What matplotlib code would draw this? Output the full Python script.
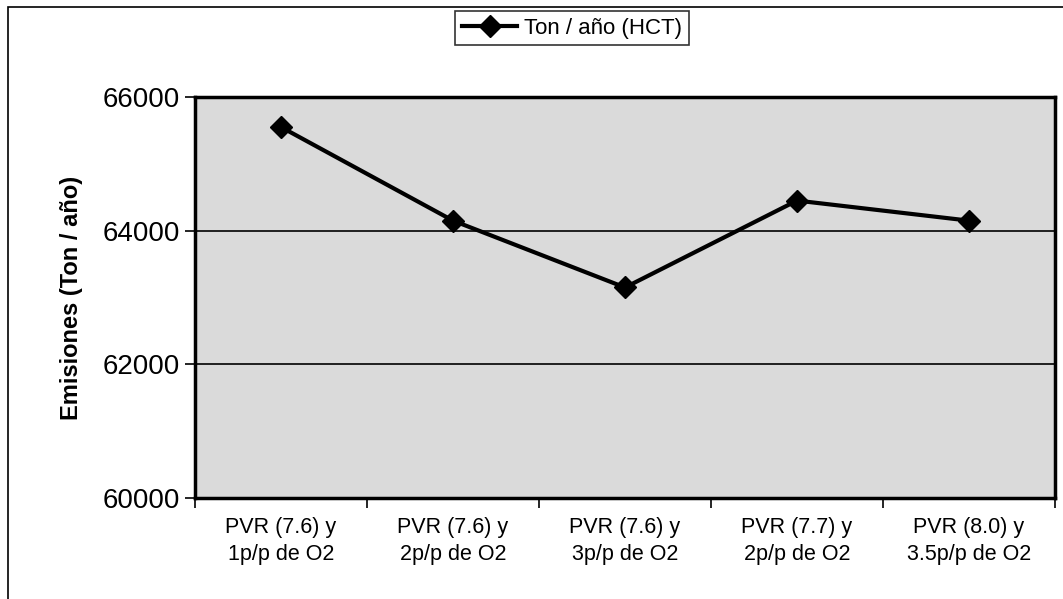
import matplotlib
matplotlib.use("Agg")
import matplotlib.pyplot as plt
from matplotlib.patches import Rectangle

categories = ["PVR (7.6) y\n1p/p de O2", "PVR (7.6) y\n2p/p de O2", "PVR (7.6) y\n3p/p de O2",
              "PVR (7.7) y\n2p/p de O2", "PVR (8.0) y\n3.5p/p de O2"]
values = [65550, 64150, 63150, 64450, 64150]
yticks = [60000, 62000, 64000, 66000]
series_name = "Ton / año (HCT)"
ylabel = "Emisiones (Ton / año)"

plt.rcParams['font.family'] = ['Liberation Sans', 'DejaVu Sans']

fig = plt.figure(figsize=(10.63, 5.99), dpi=100)
ax = fig.add_axes([195/1063, 1-498/599, (1055-195)/1063, (498-97)/599])
ax.set_facecolor('#dadada')

x = list(range(len(categories)))
ax.plot(x, values, color='black', lw=3, marker='D', ms=11, label=series_name, zorder=3)

ax.set_xlim(-0.5, len(categories)-0.5)
ax.set_ylim(60000, 66000)
ax.set_yticks(yticks)
ax.set_yticklabels([str(v) for v in yticks], fontsize=20)
ax.set_xticks([i - 0.5 for i in range(len(categories)+1)], minor=False)
ax.set_xticklabels([])
ax.set_xticks(x, minor=True)
ax.set_xticklabels(categories, minor=True, fontsize=15.5, linespacing=1.35)
ax.tick_params(axis='x', which='minor', length=0, pad=14)
ax.tick_params(axis='x', which='major', length=7, width=1.2, direction='out')
ax.tick_params(axis='y', length=7, width=1.2, direction='out', pad=4)
ax.grid(axis='y', color='black', lw=1.2)
ax.set_axisbelow(True)
for s in ax.spines.values():
    s.set_linewidth(2.5)
ax.set_ylabel(ylabel, fontsize=17, fontweight='bold', labelpad=14)

leg = fig.legend(loc='upper center', bbox_to_anchor=(572/1063, 1-11/599), fontsize=16,
                 frameon=True, fancybox=False, edgecolor='black', handlelength=2.5,
                 borderpad=0.3, handletextpad=0.3, borderaxespad=0)
leg.get_frame().set_linewidth(1.2)

fig.patches.append(Rectangle((8/1063, -0.1), 1.2, 1-7/599+0.1, transform=fig.transFigure,
                             fill=False, edgecolor='black', lw=1.2))

fig.savefig("out.png", dpi=100)
